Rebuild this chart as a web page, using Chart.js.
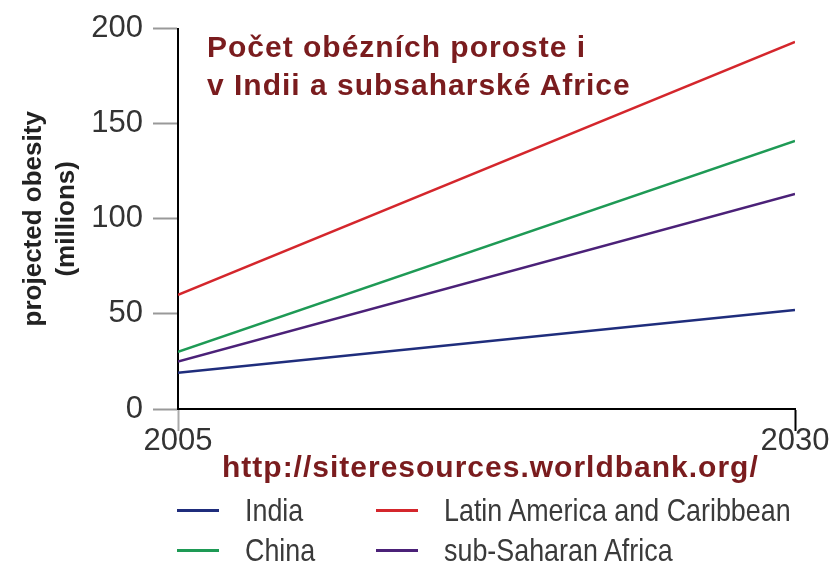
<!DOCTYPE html>
<html lang="cs">
<head>
  <meta charset="UTF-8">
  <title>Počet obézních</title>
  <script src="https://cdn.jsdelivr.net/npm/chart.js@4.4.1/dist/chart.umd.min.js"></script>
  <style>
    body { margin: 0; background: #fff; }
    #wrap { position: relative; width: 832px; height: 570px; }
    .note { position: absolute; color: #7a1c1e; font: bold 30px 'Liberation Sans', Arial, sans-serif; letter-spacing: 1px; white-space: nowrap; }
    #title { left: 207px; top: 28px; line-height: 38px; }
    #src { left: 222px; top: 450px; }
    .leg { position: absolute; font: 32px 'Liberation Sans', sans-serif; color: #3a3a3a; white-space: nowrap; line-height: 34px; }
    .leg span { display: inline-block; transform: scaleX(0.84); transform-origin: 0 50%; }
    .leg i { position: absolute; left: -68px; top: 16px; width: 42px; height: 3px; }
  </style>
</head>
<body>
<div id="wrap">
  <canvas id="chart" width="832" height="570"></canvas>
  <div id="title" class="note">Počet obézních poroste i<br>v Indii a subsaharské Africe</div>
  <div id="src" class="note">http://siteresources.worldbank.org/</div>
  <div id="legend"></div>
</div>

<script>
  const years = [2005, 2030];
  const india = [19, 52];
  const latinAmerica = [60, 193];
  const china = [30, 141];
  const subSaharan = [25, 113];

  const series = [
    { label: 'India', values: india, color: '#1f2d7c', left: 245, top: 493 },
    { label: 'Latin America and Caribbean', values: latinAmerica, color: '#d4262c', left: 444, top: 493 },
    { label: 'China', values: china, color: '#1e9a55', left: 245, top: 533 },
    { label: 'sub-Saharan Africa', values: subSaharan, color: '#4b2178', left: 444, top: 533 }
  ];

  const tickFont = { family: "'Liberation Sans', sans-serif", size: 31 };

  new Chart(document.getElementById('chart'), {
    type: 'line',
    data: {
      datasets: series.map(s => ({
        label: s.label,
        data: s.values.map((v, i) => ({ x: years[i], y: v })),
        borderColor: s.color,
        borderWidth: 2.5,
        pointRadius: 0
      }))
    },
    options: {
      responsive: false,
      animation: false,
      layout: { padding: { top: 27, right: 37, bottom: 0, left: 0 } },
      plugins: { legend: { display: false }, tooltip: { enabled: false } },
      scales: {
        x: {
          type: 'linear',
          min: 2005,
          max: 2030,
          afterBuildTicks: s => { s.ticks = years.map(v => ({ value: v })); },
          afterFit: s => { s.height = 161; },
          grid: {
            drawOnChartArea: false,
            tickLength: 22,
            tickWidth: 2,
            tickColor: c => c.tick && c.tick.value === 2030 ? '#000' : '#aaa'
          },
          border: { color: '#000', width: 2 },
          ticks: { font: tickFont, color: '#333', padding: -8, callback: v => String(v), maxRotation: 0 }
        },
        y: {
          min: 0,
          max: 200,
          afterFit: s => { s.width = 178; },
          grid: { drawOnChartArea: false, tickLength: 25, tickWidth: 2, tickColor: '#999' },
          border: { color: '#000', width: 2 },
          ticks: { stepSize: 50, font: tickFont, color: '#333', padding: 10 },
          title: {
            display: true,
            text: ['projected obesity', '(millions)'],
            color: '#222',
            font: { family: "'Liberation Sans', sans-serif", size: 26, weight: 'bold', lineHeight: 1.27 },
            padding: { top: 17, bottom: 0 }
          }
        }
      }
    }
  });

  const legend = document.getElementById('legend');
  series.forEach(s => {
    const el = document.createElement('div');
    el.className = 'leg';
    el.style.left = s.left + 'px';
    el.style.top = s.top + 'px';
    el.innerHTML = '<i style="background:' + s.color + '"></i><span>' + s.label + '</span>';
    legend.appendChild(el);
  });
</script>
</body>
</html>
